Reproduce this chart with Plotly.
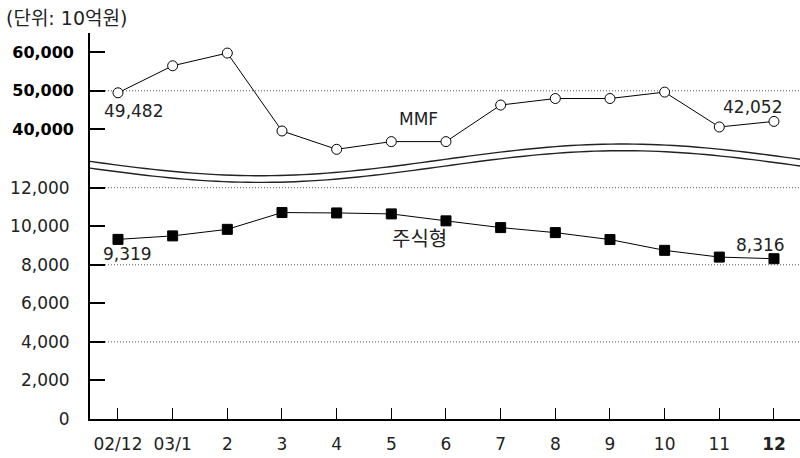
import math
import plotly.graph_objects as go

# ---------------- data ----------------
months = ["02/12", "03/1", "2", "3", "4", "5", "6", "7", "8", "9", "10", "11", "12"]
mmf = [49482, 56500, 59800, 39560, 34800, 36800, 36800, 46300, 48000, 48000, 49660, 40600, 42052]
stock = [9319, 9500, 9840, 10710, 10690, 10640, 10280, 9930, 9670, 9310, 8750, 8400, 8316]

lower_ticks = [0, 2000, 4000, 6000, 8000, 10000, 12000]
lower_labels = ["0", "2,000", "4,000", "6,000", "8,000", "10,000", "12,000"]
upper_ticks = [40000, 50000, 60000]
upper_labels = ["<b>40,000</b>", "<b>50,000</b>", "<b>60,000</b>"]
x_labels = ["02/12", "03/1", "2", "3", "4", "5", "6", "7", "8", "9", "10", "11", "<b>12</b>"]

lower_grid = [4000, 8000, 12000]
upper_grid = [50000]

# ---------------- layout geometry ----------------
W, H = 800, 458
L, R, T, B = 90, 0, 33, 39
PW, PH = W - L - R, H - T - B
FONT = "DejaVu Sans, Noto Sans CJK KR, sans-serif"


def px(x):
    return (x - L) / PW


def py(y):
    return (T + PH - y) / PH


fig = go.Figure()

fig.add_trace(go.Scatter(
    x=months, y=stock, yaxis="y", mode="lines+markers",
    line=dict(color="black", width=1),
    marker=dict(symbol="square", size=10, color="black", line=dict(color="black", width=1)),
    showlegend=False, hoverinfo="skip",
))
fig.add_trace(go.Scatter(
    x=months, y=mmf, yaxis="y2", mode="lines+markers",
    line=dict(color="black", width=1),
    marker=dict(symbol="circle", size=10, color="white", line=dict(color="black", width=1)),
    showlegend=False, hoverinfo="skip",
))

shapes = []
# dotted grid lines
for v in lower_grid:
    shapes.append(dict(type="line", xref="paper", x0=0, x1=1, yref="y", y0=v, y1=v,
                       line=dict(color="#555", width=1, dash="1px,2px"), layer="below"))
for v in upper_grid:
    shapes.append(dict(type="line", xref="paper", x0=0, x1=1, yref="y2", y0=v, y1=v,
                       line=dict(color="#555", width=1, dash="1px,2px"), layer="below"))

# axis-break wave (two parallel curves, white between)
N = 90
xs = [L + (W - L) * i / N for i in range(N + 1)]
up = [159.85 + 15.85 * math.cos(2 * math.pi * (x - 260) / 726) for x in xs]
lo = [u + 6.7 for u in up]


def path_of(xx, yy):
    return "M " + " L ".join(f"{px(a):.5f},{py(b):.5f}" for a, b in zip(xx, yy))


fill_path = path_of(xs + xs[::-1], up + lo[::-1]) + " Z"
shapes.append(dict(type="path", xref="paper", yref="paper", path=fill_path,
                   fillcolor="white", line=dict(width=0)))
shapes.append(dict(type="path", xref="paper", yref="paper", path=path_of(xs, up),
                   line=dict(color="#222", width=1.4)))
shapes.append(dict(type="path", xref="paper", yref="paper", path=path_of(xs, lo),
                   line=dict(color="#222", width=1.4)))

annotations = []


def label(text, cx, cy, size=17, color="#222"):
    annotations.append(dict(text=text, x=px(cx), y=py(cy), xref="paper", yref="paper",
                            showarrow=False, xanchor="center", yanchor="middle",
                            font=dict(family=FONT, size=size, color=color)))


label("49,482", 133.5, 111)
label("42,052", 752.5, 107)
label("MMF", 418.5, 119)
label("주식형", 419, 239, size=20)
label("9,319", 127.5, 254)
label("8,316", 760, 245.5)
annotations.append(dict(text="(단위: 10억원)", x=px(4), y=py(18), xref="paper", yref="paper",
                        showarrow=False, xanchor="left", yanchor="middle",
                        font=dict(family=FONT, size=19, color="#222")))

lower_top = (T + PH - T) / 19.275 * 1000
up_per = 3.85 / 1000
upper_range = [40000 - (T + PH - 129.3) / up_per, 60000 + (52.3 - T) / up_per]

fig.update_layout(
    width=W, height=H,
    margin=dict(l=L, r=R, t=T, b=B, pad=0),
    paper_bgcolor="white", plot_bgcolor="white",
    font=dict(family=FONT, size=17, color="#222"),
    xaxis=dict(
        type="category", range=[-0.512, 12.476],
        tickmode="array", tickvals=months, ticktext=x_labels,
        ticks="inside", ticklen=11, tickwidth=1, tickcolor="black",
        showline=True, linecolor="black", linewidth=2,
        showgrid=False, zeroline=False,
        tickfont=dict(family=FONT, size=17, color="#222"),
        ticklabelstandoff=9,
    ),
    yaxis=dict(
        range=[0, lower_top],
        tickmode="array", tickvals=lower_ticks, ticktext=lower_labels,
        ticks="inside", ticklen=15, tickwidth=1.5, tickcolor="black",
        showline=True, linecolor="black", linewidth=2,
        showgrid=False, zeroline=False,
        tickfont=dict(family=FONT, size=17, color="#222"),
        ticklabelstandoff=15,
    ),
    yaxis2=dict(
        range=upper_range, overlaying="y", side="left", anchor="x",
        tickmode="array", tickvals=upper_ticks, ticktext=upper_labels,
        ticks="inside", ticklen=15, tickwidth=1.5, tickcolor="black",
        showline=False, showgrid=False, zeroline=False,
        tickfont=dict(family=FONT, size=16, color="black"),
        ticklabelstandoff=15,
    ),
    shapes=shapes,
    annotations=annotations,
)

fig.write_html("out.html", config={"displayModeBar": False},
               post_script="document.body.style.margin='0';")
